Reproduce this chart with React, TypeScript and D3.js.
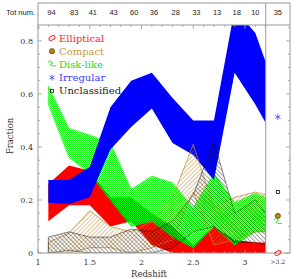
import React from "react";
import * as d3 from "d3";

// redshift grid of the bands (last point is the panel edge)
const redshift = [1.1, 1.3, 1.5, 1.7, 1.9, 2.1, 2.3, 2.5, 2.7, 2.9, 3.1, 3.2];

const ellipticalLo = [0.12, 0.18, 0.18, 0.1, 0.12, 0.03, 0.0, 0.0, 0.0, 0.0, 0.0, 0.0];
const ellipticalHi = [0.26, 0.33, 0.31, 0.21, 0.21, 0.15, 0.1, 0.03, 0.1, 0.05, 0.04, 0.04];

const compactLo = [0.0, 0.0, 0.02, 0.02, 0.0, 0.02, 0.05, 0.23, 0.03, 0.05, 0.08, 0.08];
const compactHi = [0.04, 0.075, 0.16, 0.1, 0.08, 0.12, 0.21, 0.41, 0.17, 0.21, 0.23, 0.22];

const diskLo = [0.56, 0.36, 0.3, 0.2, 0.1, 0.12, 0.06, 0.02, 0.1, 0.03, 0.08, 0.08];
const diskHi = [0.63, 0.47, 0.445, 0.415, 0.24, 0.29, 0.265, 0.17, 0.3, 0.19, 0.225, 0.21];

const irregularLo = [0.19, 0.185, 0.21, 0.39, 0.475, 0.545, 0.415, 0.37, 0.275, 0.68, 0.56, 0.49];
const irregularHi = [0.275, 0.275, 0.325, 0.55, 0.65, 0.68, 0.585, 0.5, 0.5, 0.92, 0.83, 0.72];

const unclassifiedLo = [0.0, 0.01, 0.0, 0.0, 0.0, 0.0, 0.02, 0.08, 0.1, 0.04, 0.04, 0.03];
const unclassifiedHi = [0.06, 0.08, 0.06, 0.06, 0.09, 0.08, 0.12, 0.22, 0.42, 0.15, 0.2, 0.15];

// total numbers per bin, shown in the strip above the plot
const binCenters = [1.13, 1.35, 1.53, 1.73, 1.93, 2.12, 2.33, 2.53, 2.73, 2.92, 3.1];
const totNum = [94, 83, 41, 43, 60, 36, 28, 33, 13, 18, 10];
const totNumHighZ = 35;

const classNames = ["Elliptical", "Compact", "Disk-like", "Irregular", "Unclassified"];
const classColors = ["#ff2020", "#c8963c", "#22dd22", "#3a3aff", "#222222"];
const highZFraction = [0.0, 0.14, 0.117, 0.513, 0.23];

const xTicks = [1, 1.5, 2, 2.5, 3];
const yTicks = [0, 0.2, 0.4, 0.6, 0.8];

const left = 38;
const right = 265.7;
const sideRight = 290;
const top = 25;
const bottom = 253;
const boxTop = 3;
const axisColor = "#999";
const serif = "DejaVu Serif";

function Marker({ kind, x, y }: { kind: number; x: number; y: number }) {
  if (kind === 0)
    return (
      <ellipse cx={x} cy={y} rx={3.3} ry={1.9} transform={`rotate(-30 ${x} ${y})`}
        fill="none" stroke="#ff2020" strokeWidth={0.9} />
    );
  if (kind === 1)
    return <circle cx={x} cy={y} r={2.6} fill="#b8860b" stroke="#5a4010" strokeWidth={0.7} />;
  if (kind === 2)
    return (
      <path
        d={`M${x - 4},${y - 2} q2,-3 4,-0.5 q1.5,1.5 -1,2 q-2,0.5 0,1.5 q2,1 5,0.5`}
        fill="none" stroke="#22dd22" strokeWidth={0.9} />
    );
  if (kind === 3) {
    const r = 3;
    return (
      <g stroke="#4444ff" strokeWidth={0.8}>
        {[90, 30, 150].map((a) => {
          const dx = r * Math.cos((a * Math.PI) / 180);
          const dy = r * Math.sin((a * Math.PI) / 180);
          return <line key={a} x1={x - dx} y1={y - dy} x2={x + dx} y2={y + dy} />;
        })}
      </g>
    );
  }
  return <rect x={x - 1.5} y={y - 1.5} width={3} height={3} fill="none" stroke="#111" strokeWidth={0.8} />;
}

export default function App() {
  const x = d3.scaleLinear().domain([1, 3.2]).range([left, right]);
  const y = d3.scaleLinear().domain([0, 0.86]).range([bottom, top]);

  const band = (lo: number[], hi: number[]) =>
    d3
      .area<number>()
      .x((_, i) => x(redshift[i]))
      .y0((_, i) => y(lo[i]))
      .y1((_, i) => y(hi[i]))(redshift) || "";

  const sideX = (right + sideRight) / 2;
  const xMinor = d3.range(10, 33).map((v) => v / 10);
  const yMinor = d3.range(0, 18).map((v) => v * 0.05);

  return (
    <svg width={300} height={279} style={{ position: "absolute", left: 0, top: 0, background: "#fff" }}>
      <defs>
        <clipPath id="plotClip">
          <rect x={left} y={top} width={right - left} height={bottom - top} />
        </clipPath>
        <pattern id="checkGreen" width={2} height={2} patternUnits="userSpaceOnUse">
          <rect x={0} y={0} width={1} height={1} fill="#00ff00" />
          <rect x={1} y={1} width={1} height={1} fill="#00ff00" />
        </pattern>
        <pattern id="hatchBrown" width={3} height={3} patternUnits="userSpaceOnUse" patternTransform="rotate(45)">
          <line x1={0} y1={0} x2={0} y2={3} stroke="#b47a18" strokeWidth={0.9} />
        </pattern>
        <pattern id="hatchBlack" width={3} height={3} patternUnits="userSpaceOnUse" patternTransform="rotate(-45)">
          <line x1={0} y1={0} x2={0} y2={3} stroke="#111" strokeWidth={0.8} />
        </pattern>
      </defs>

      <g clipPath="url(#plotClip)">
        <path d={band(ellipticalLo, ellipticalHi)} fill="#ff0000" />
        <path d={band(diskLo, diskHi)} fill="url(#checkGreen)" stroke="#22dd22" strokeWidth={0.6} />
        <path d={band(irregularLo, irregularHi)} fill="#0000ff" />
        <path d={band(compactLo, compactHi)} fill="url(#hatchBrown)" stroke="#c08a2a" strokeWidth={0.7} />
        <path d={band(unclassifiedLo, unclassifiedHi)} fill="url(#hatchBlack)" stroke="#111" strokeWidth={0.5} />
      </g>

      {/* frame */}
      <rect x={left} y={boxTop} width={sideRight - left} height={bottom - boxTop} fill="none" stroke={axisColor} strokeWidth={1} />
      <line x1={left} x2={sideRight} y1={top} y2={top} stroke={axisColor} />
      <line x1={right} x2={right} y1={boxTop} y2={bottom} stroke={axisColor} />

      {/* x ticks, bottom and top */}
      {xMinor.map((v) => {
        const len = Math.abs(v * 2 - Math.round(v * 2)) < 1e-6 ? 4 : 2;
        return (
          <g key={v} stroke={axisColor} strokeWidth={0.8}>
            <line x1={x(v)} x2={x(v)} y1={bottom} y2={bottom - len} />
            <line x1={x(v)} x2={x(v)} y1={top} y2={top + len} />
          </g>
        );
      })}
      {/* y ticks, left and right */}
      {yMinor.map((v, i) => {
        const len = i % 4 === 0 ? 4 : 2;
        return (
          <g key={i} stroke={axisColor} strokeWidth={0.8}>
            <line x1={left} x2={left + len} y1={y(v)} y2={y(v)} />
            <line x1={sideRight} x2={sideRight - len} y1={y(v)} y2={y(v)} />
          </g>
        );
      })}

      {/* tick labels */}
      {xTicks.map((v) => (
        <text key={v} x={x(v)} y={265} textAnchor="middle" fontFamily={serif} fontSize={8} fill="#333">
          {v}
        </text>
      ))}
      <text x={sideX} y={264} textAnchor="middle" fontFamily={serif} fontSize={6} fill="#333">
        {">3.2"}
      </text>
      {yTicks.map((v) => (
        <text key={v} x={33} y={y(v) + 3} textAnchor="end" fontFamily={serif} fontSize={8} fill="#333">
          {v}
        </text>
      ))}
      <text x={149} y={276.5} textAnchor="middle" fontFamily={serif} fontSize={8.5} fill="#333">
        Redshift
      </text>
      <text transform="translate(13,136) rotate(-90)" textAnchor="middle" fontFamily={serif} fontSize={8.5} fill="#333">
        Fraction
      </text>

      {/* Tot num strip */}
      <text x={35} y={15} textAnchor="end" fontFamily="Liberation Sans" fontSize={7.5} fill="#222">
        Tot num.
      </text>
      {totNum.map((n, i) => (
        <text key={i} x={x(binCenters[i])} y={15} textAnchor="middle" fontFamily="Liberation Sans" fontSize={7.5} fill="#222">
          {n}
        </text>
      ))}
      <text x={sideX} y={15} textAnchor="middle" fontFamily="Liberation Sans" fontSize={7.5} fill="#222">
        {totNumHighZ}
      </text>

      {/* legend */}
      {classNames.map((name, i) => {
        const cy = 38 + i * 13.2;
        return (
          <g key={name}>
            <Marker kind={i} x={52} y={cy} />
            <text x={59} y={cy + 3.6} fontFamily={serif} fontSize={10} fill={classColors[i]}>
              {name}
            </text>
          </g>
        );
      })}

      {/* z > 3.2 panel */}
      {highZFraction.map((f, i) => (
        <Marker key={i} kind={i} x={sideX} y={y(f)} />
      ))}
    </svg>
  );
}
